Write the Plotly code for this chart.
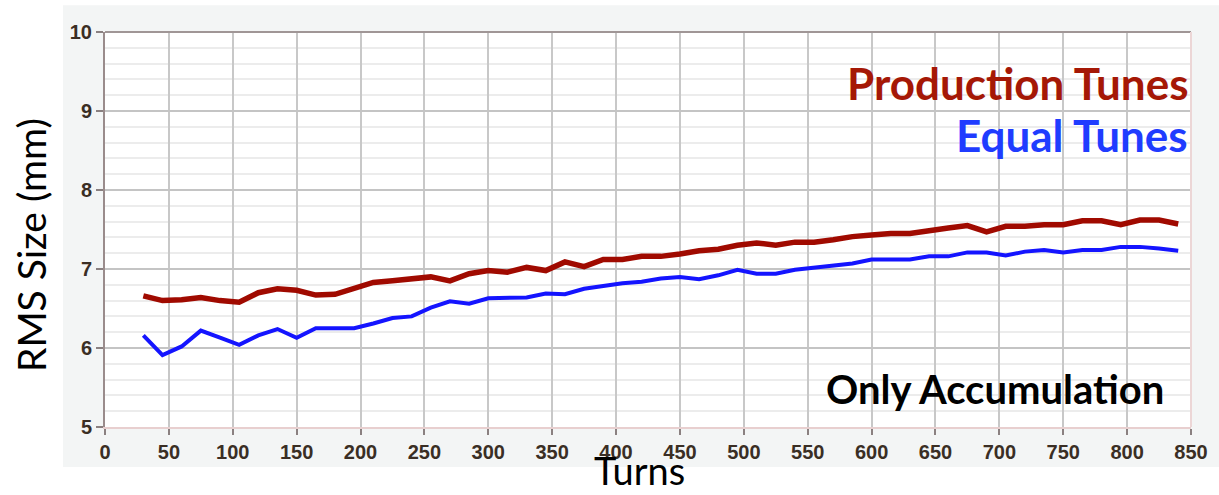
import plotly.graph_objects as go

# Turn numbers at which the beam size was sampled
turns = list(range(30, 841, 15))

# RMS beam size (mm) for the two tune settings
production_tunes = [
    6.66, 6.60, 6.61, 6.64, 6.60, 6.58, 6.70, 6.75, 6.73, 6.67,
    6.68, 6.76, 6.83, 6.85, 6.87, 6.90, 6.85, 6.94, 6.98, 6.96,
    7.02, 6.98, 7.09, 7.03, 7.12, 7.12, 7.16, 7.16, 7.19, 7.23,
    7.25, 7.30, 7.33, 7.30, 7.34, 7.34, 7.37, 7.41, 7.43, 7.45,
    7.45, 7.49, 7.52, 7.55, 7.47, 7.54, 7.54, 7.56, 7.56, 7.61,
    7.61, 7.56, 7.62, 7.62, 7.57,
]
equal_tunes = [
    6.16, 5.91, 6.02, 6.22, 6.13, 6.04, 6.16, 6.24, 6.13, 6.25,
    6.25, 6.25, 6.31, 6.38, 6.40, 6.51, 6.59, 6.56, 6.63, 6.64,
    6.64, 6.69, 6.68, 6.75, 6.79, 6.82, 6.84, 6.88, 6.90, 6.87,
    6.92, 6.99, 6.94, 6.94, 6.99, 7.02, 7.04, 7.07, 7.12, 7.12,
    7.12, 7.16, 7.16, 7.21, 7.21, 7.17, 7.22, 7.24, 7.21, 7.24,
    7.24, 7.28, 7.28, 7.26, 7.23,
]

x_ticks = list(range(0, 851, 50))
y_ticks = [5, 6, 7, 8, 9, 10]

RED = "#a00a00"
BLUE = "#1414ff"

fig = go.Figure()
fig.add_trace(go.Scatter(x=turns, y=production_tunes, mode="lines",
                         line=dict(color=RED, width=5.5), name="Production Tunes"))
fig.add_trace(go.Scatter(x=turns, y=equal_tunes, mode="lines",
                         line=dict(color=BLUE, width=4), name="Equal Tunes"))

tick_font = dict(family="Liberation Sans", size=20, color="#3a2e24", weight="bold")

fig.update_layout(
    width=1219, height=495,
    margin=dict(l=105, r=28, t=32, b=68),
    paper_bgcolor="#f3f5f5",
    plot_bgcolor="white",
    showlegend=False,
    xaxis=dict(
        range=[0, 850], tickvals=x_ticks, ticktext=[str(v) for v in x_ticks],
        showgrid=True, gridcolor="#c8c8c8", gridwidth=2,
        zeroline=False, showline=True, linecolor="#e8cfcf", linewidth=2,
        ticks="outside", ticklen=6, tickwidth=2, tickcolor="#8a8080",
        tickfont=tick_font,
    ),
    yaxis=dict(
        range=[5, 10], tickvals=y_ticks, ticktext=[str(v) for v in y_ticks],
        showgrid=True, gridcolor="#c4c4c4", gridwidth=2,
        minor=dict(dtick=0.2, showgrid=True, gridcolor="#ececec", gridwidth=1.5),
        zeroline=False, showline=True, linecolor="#9a8c8c", linewidth=2,
        ticks="outside", ticklen=7, tickwidth=2, tickcolor="#8a8080",
        tickfont=tick_font,
    ),
)

# White surround outside the grey chart panel
for x0, x1, y0, y1 in [(-0.2, -0.0387, -0.3, 1.2),
                       (-0.2, 1.2, -0.3, -0.101),
                       (-0.2, 1.2, 1.068, 1.2)]:
    fig.add_shape(type="rect", xref="paper", yref="paper", x0=x0, x1=x1, y0=y0, y1=y1,
                  fillcolor="white", line_width=0, layer="below")

# Top and right frame edges of the plotting area
fig.add_shape(type="line", xref="paper", yref="paper", x0=0, x1=1, y0=1, y1=1,
              line=dict(color="#a09696", width=2))
fig.add_shape(type="line", xref="paper", yref="paper", x0=1, x1=1, y0=0, y1=1,
              line=dict(color="#ecd6d6", width=2))

text_font = "Lato"
fig.add_annotation(xref="paper", yref="paper", x=0.999, y=0.872, xanchor="right", yanchor="middle",
                   text="<b>Production Tunes</b>", showarrow=False,
                   font=dict(family=text_font, size=44, color="#a51806"))
fig.add_annotation(xref="paper", yref="paper", x=0.999, y=0.740, xanchor="right", yanchor="middle",
                   text="<b>Equal Tunes</b>", showarrow=False,
                   font=dict(family=text_font, size=44, color="#1f3cff"))
fig.add_annotation(xref="paper", yref="paper", x=0.977, y=0.095, xanchor="right", yanchor="middle",
                   text="<b>Only Accumulation</b>", showarrow=False,
                   font=dict(family=text_font, size=40, color="black"))
fig.add_annotation(xref="paper", yref="paper", x=0.4926, y=-0.110, xanchor="center", yanchor="middle",
                   text="Turns", showarrow=False,
                   font=dict(family=text_font, size=38, color="black"))
fig.add_annotation(xref="paper", yref="paper", x=-0.068, y=0.461, xanchor="center", yanchor="middle",
                   text="RMS Size (mm)", textangle=-90, showarrow=False,
                   font=dict(family=text_font, size=39, color="black"))

fig.write_html("out.html")
